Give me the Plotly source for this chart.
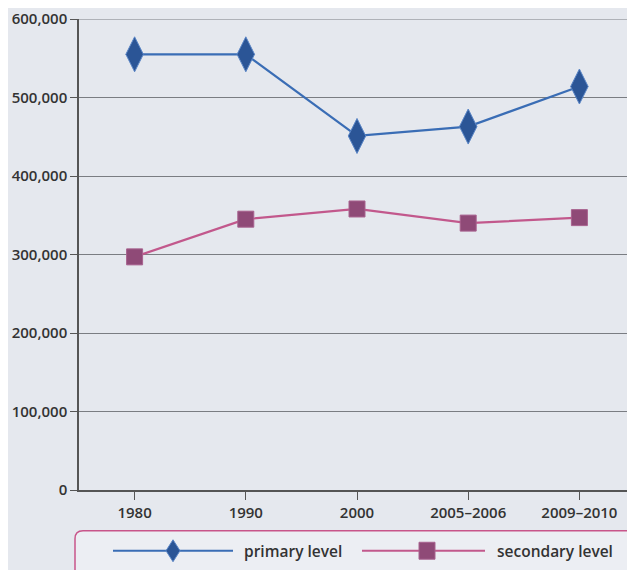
import plotly.graph_objects as go

periods = ["1980", "1990", "2000", "2005–2006", "2009–2010"]
primary_level = [555000, 555000, 451000, 463000, 514000]
secondary_level = [297000, 345000, 358000, 340000, 347000]
y_ticks = [0, 100000, 200000, 300000, 400000, 500000, 600000]

PRIMARY_LINE = "#3a6db5"
PRIMARY_MARK = "#2b5596"
SECOND_LINE = "#c2588c"
SECOND_MARK = "#8f4a77"
BG = "#e5e8ee"
FONT = dict(family="Open Sans", size=15, color="#333333", weight=600)

# page body has an 8px margin: work in screen pixels, shift by OFF
OFF = 8
W, H = 635 - OFF, 570 - OFF
L_s, T_s, B_s = 79, 17, 490          # screen coords of plot left/top/bottom
L, T = L_s - OFF, T_s - OFF
R = 0
B = H - (B_s - OFF)
pw, ph = W - L - R, H - T - B

fig = go.Figure()
fig.add_trace(go.Scatter(
    x=periods, y=primary_level, mode="lines+markers", name="primary level",
    line=dict(color=PRIMARY_LINE, width=2.2),
    marker=dict(symbol="diamond-tall", size=25, color=PRIMARY_MARK,
                line=dict(color="#5b86c6", width=1)),
    showlegend=False))
fig.add_trace(go.Scatter(
    x=periods, y=secondary_level, mode="lines+markers", name="secondary level",
    line=dict(color=SECOND_LINE, width=2.2),
    marker=dict(symbol="square", size=16, color=SECOND_MARK,
                line=dict(color="#a8628f", width=1)),
    showlegend=False))


def px(x):
    return (x - OFF - L) / pw


def py(y):
    return (H - B - (y - OFF)) / ph


shapes = []
# top gridline at the axis maximum
shapes.append(dict(type="line", xref="paper", yref="y", x0=0, x1=1,
                   y0=y_ticks[-1], y1=y_ticks[-1],
                   line=dict(color="#7a7d82", width=1), layer="below"))
x0, x1, y0, y1, r = 75, 660, 531, 600, 8
path = (f"M {px(x0 + r)},{py(y0)} L {px(x1)},{py(y0)} L {px(x1)},{py(y1)} "
        f"L {px(x0)},{py(y1)} L {px(x0)},{py(y0 + r)} "
        f"Q {px(x0)},{py(y0)} {px(x0 + r)},{py(y0)} Z")
shapes.append(dict(type="path", xref="paper", yref="paper", path=path,
                   line=dict(color="#c8558a", width=1.5), fillcolor="#eceef3",
                   layer="above"))
ly = 551
shapes.append(dict(type="line", xref="paper", yref="paper",
                   x0=px(113), x1=px(233), y0=py(ly), y1=py(ly),
                   line=dict(color=PRIMARY_LINE, width=2.2), layer="above"))
shapes.append(dict(type="path", xref="paper", yref="paper",
                   path=(f"M {px(173)},{py(ly - 11)} L {px(180)},{py(ly)} "
                         f"L {px(173)},{py(ly + 11)} L {px(166)},{py(ly)} Z"),
                   fillcolor=PRIMARY_MARK, line=dict(color="#5b86c6", width=1),
                   layer="above"))
shapes.append(dict(type="line", xref="paper", yref="paper",
                   x0=px(362), x1=px(485), y0=py(ly), y1=py(ly),
                   line=dict(color=SECOND_LINE, width=2.2), layer="above"))
shapes.append(dict(type="rect", xref="paper", yref="paper",
                   x0=px(419), x1=px(435), y0=py(ly - 8.5), y1=py(ly + 8.5),
                   fillcolor=SECOND_MARK, line=dict(color="#a8628f", width=1),
                   layer="above"))

LEG_FONT = dict(family="Open Sans", size=15.5, color="#333333", weight=600)
annotations = [
    dict(text="primary level", xref="paper", yref="paper", x=px(242), y=py(ly),
         xanchor="left", yanchor="middle", showarrow=False, font=LEG_FONT),
    dict(text="secondary level", xref="paper", yref="paper", x=px(495), y=py(ly),
         xanchor="left", yanchor="middle", showarrow=False, font=LEG_FONT),
]

fig.update_layout(
    width=W, height=H,
    margin=dict(l=L, r=R, t=T, b=B),
    paper_bgcolor=BG, plot_bgcolor=BG,
    shapes=shapes, annotations=annotations,
    font=FONT,
    xaxis=dict(type="category", range=[-0.5, 4.5], showgrid=False,
               showline=True, linecolor="#555555", linewidth=1.5,
               ticks="outside", ticklen=8, tickcolor="#555555",
               tickfont=FONT, fixedrange=True),
    yaxis=dict(range=[0, 600000], tickvals=y_ticks,
               ticktext=[f"{v:,}" for v in y_ticks],
               showgrid=True, gridcolor="#7a7d82", gridwidth=1,
               showline=True, linecolor="#555555", linewidth=1.5,
               ticks="outside", ticklen=7, tickcolor="#555555",
               ticklabeloverflow="allow",
               tickfont=FONT, zeroline=False, fixedrange=True),
)

fig.write_html("out.html")
